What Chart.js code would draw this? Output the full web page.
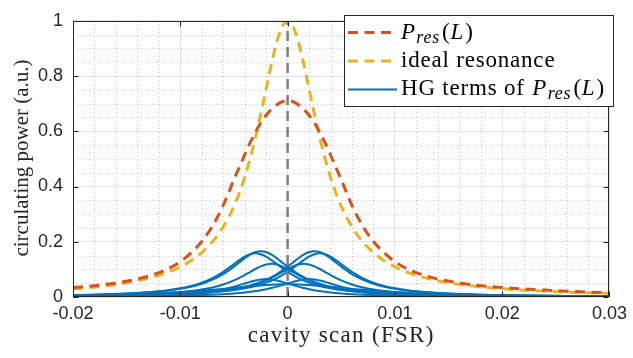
<!DOCTYPE html>
<html><head><meta charset="utf-8">
<script src="https://cdn.jsdelivr.net/npm/chart.js@4.4.1/dist/chart.umd.min.js"></script>
<style>html,body{margin:0;padding:0;background:#fff;overflow:hidden}</style>
</head><body>
<canvas id="c" width="633" height="358"></canvas>
<script>
// ---- data ----
const scanX = [-0.02,-0.018,-0.016,-0.014,-0.012,-0.011,-0.01,-0.009,-0.008,-0.007,-0.006,-0.005,-0.0045,-0.004,-0.0035,-0.003,-0.0025,-0.002,-0.0015,-0.001,-0.0005,0,0.0005,0.001,0.0015,0.002,0.0025,0.003,0.0035,0.004,0.0045,0.005,0.006,0.007,0.008,0.009,0.01,0.011,0.012,0.014,0.016,0.018,0.02,0.022,0.024,0.026,0.028,0.03];
const idealResonance = [0.0297,0.0364,0.0457,0.0588,0.0784,0.0919,0.1091,0.1314,0.1607,0.2,0.2539,0.3289,0.3769,0.4336,0.5,0.5765,0.6622,0.7538,0.8448,0.9245,0.98,1,0.98,0.9245,0.8448,0.7538,0.6622,0.5765,0.5,0.4336,0.3769,0.3289,0.2539,0.2,0.1607,0.1314,0.1091,0.0919,0.0784,0.0588,0.0457,0.0364,0.0297,0.0247,0.0208,0.0178,0.0154,0.0134];
const pRes = [0.034,0.041,0.051,0.065,0.088,0.105,0.128,0.160,0.201,0.257,0.332,0.425,0.470,0.515,0.558,0.597,0.630,0.658,0.680,0.696,0.707,0.712,0.707,0.696,0.680,0.658,0.630,0.597,0.558,0.515,0.470,0.425,0.332,0.257,0.201,0.160,0.128,0.105,0.088,0.065,0.051,0.041,0.034,0.029,0.025,0.021,0.018,0.016];
const hgA_pos = [0.0039,0.0047,0.0057,0.0072,0.0091,0.0105,0.0121,0.0141,0.0166,0.0198,0.0241,0.0297,0.0332,0.0373,0.0421,0.0478,0.0546,0.0626,0.0720,0.0830,0.0957,0.1099,0.1251,0.1402,0.1535,0.1627,0.166,0.1627,0.1535,0.1402,0.1251,0.1099,0.0830,0.0626,0.0478,0.0373,0.0297,0.0241,0.0198,0.0141,0.0105,0.0081,0.0064,0.0052,0.0043,0.0036,0.0031,0.0026];
const hgA_neg = [0.0064,0.0081,0.0105,0.0141,0.0198,0.0241,0.0297,0.0373,0.0478,0.0626,0.0830,0.1099,0.1251,0.1402,0.1535,0.1627,0.166,0.1627,0.1535,0.1402,0.1251,0.1099,0.0957,0.0830,0.0720,0.0626,0.0546,0.0478,0.0421,0.0373,0.0332,0.0297,0.0241,0.0198,0.0166,0.0141,0.0121,0.0105,0.0091,0.0072,0.0057,0.0047,0.0039,0.0033,0.0028,0.0025,0.0022,0.0019];
const hgB_pos = [0.0036,0.0043,0.0052,0.0064,0.0082,0.0093,0.0107,0.0124,0.0145,0.0172,0.0208,0.0254,0.0283,0.0316,0.0355,0.0401,0.0455,0.0520,0.0596,0.0685,0.079,0.0911,0.1046,0.1191,0.1335,0.1461,0.1548,0.158,0.1548,0.1461,0.1335,0.1191,0.0911,0.0685,0.0520,0.0401,0.0316,0.0254,0.0208,0.0145,0.0107,0.0082,0.0064,0.0052,0.0043,0.0036,0.0030,0.0026];
const hgB_neg = [0.0064,0.0082,0.0107,0.0145,0.0208,0.0254,0.0316,0.0401,0.0520,0.0685,0.0911,0.1191,0.1335,0.1461,0.1548,0.158,0.1548,0.1461,0.1335,0.1191,0.1046,0.0911,0.079,0.0685,0.0596,0.0520,0.0455,0.0401,0.0355,0.0316,0.0283,0.0254,0.0208,0.0172,0.0145,0.0124,0.0107,0.0093,0.0082,0.0064,0.0052,0.0043,0.0036,0.0030,0.0026,0.0023,0.0020,0.0018];
const hgC_pos = [0.0031,0.0037,0.0046,0.0058,0.0076,0.0087,0.0102,0.012,0.0143,0.0174,0.0215,0.0270,0.0305,0.0346,0.0395,0.0452,0.0520,0.06,0.0692,0.0795,0.0905,0.1014,0.1109,0.1176,0.12,0.1176,0.1109,0.1014,0.0905,0.0795,0.0692,0.06,0.0452,0.0346,0.0270,0.0215,0.0174,0.0143,0.012,0.0087,0.0066,0.0052,0.0042,0.0034,0.0028,0.0024,0.0021,0.0018];
const hgC_neg = [0.0042,0.0052,0.0066,0.0087,0.012,0.0143,0.0174,0.0215,0.0270,0.0346,0.0452,0.06,0.0692,0.0795,0.0905,0.1014,0.1109,0.1176,0.12,0.1176,0.1109,0.1014,0.0905,0.0795,0.0692,0.06,0.0520,0.0452,0.0395,0.0346,0.0305,0.0270,0.0215,0.0174,0.0143,0.012,0.0102,0.0087,0.0076,0.0058,0.0046,0.0037,0.0031,0.0026,0.0022,0.0019,0.0017,0.0015];
const hgD_center = [0.0063,0.0076,0.0092,0.0113,0.0142,0.0159,0.0180,0.0203,0.023,0.0261,0.0294,0.0331,0.0349,0.0368,0.0386,0.0403,0.0419,0.0433,0.0444,0.0453,0.0458,0.046,0.0458,0.0453,0.0444,0.0433,0.0419,0.0403,0.0386,0.0368,0.0349,0.0331,0.0294,0.0261,0.023,0.0203,0.0180,0.0159,0.0142,0.0113,0.0092,0.0076,0.0063,0.0054,0.0046,0.0040,0.0035,0.0031];
const hgE_pos = [0.0016,0.0019,0.0024,0.0030,0.0038,0.0044,0.0051,0.0060,0.0071,0.0085,0.0104,0.013,0.0146,0.0165,0.0187,0.0214,0.0245,0.0282,0.0325,0.0375,0.0430,0.0490,0.0549,0.0601,0.0637,0.065,0.0637,0.0601,0.0549,0.0490,0.0430,0.0375,0.0282,0.0214,0.0165,0.013,0.0104,0.0085,0.0071,0.0051,0.0038,0.0030,0.0024,0.0019,0.0016,0.0014,0.0012,0.0010];
const hgE_neg = [0.0024,0.0030,0.0038,0.0051,0.0071,0.0085,0.0104,0.013,0.0165,0.0214,0.0282,0.0375,0.0430,0.0490,0.0549,0.0601,0.0637,0.065,0.0637,0.0601,0.0549,0.0490,0.0430,0.0375,0.0325,0.0282,0.0245,0.0214,0.0187,0.0165,0.0146,0.013,0.0104,0.0085,0.0071,0.0060,0.0051,0.0044,0.0038,0.0030,0.0024,0.0019,0.0016,0.0014,0.0012,0.0010,0.0009,0.0008];
const markerX = [0, 0];
const markerY = [0, 1];
const xTickValues = [-0.02, -0.01, 0, 0.01, 0.02, 0.03];
const xTickLabels = ['-0.02', '-0.01', '0', '0.01', '0.02', '0.03'];
const yTickValues = [0, 0.2, 0.4, 0.6, 0.8, 1];
const yTickLabels = ['0', '0.2', '0.4', '0.6', '0.8', '1'];
const xTitle = 'cavity scan (FSR)';
const yTitle = 'circulating power (a.u.)';
const legendIdeal = 'ideal resonance';
const legendHGPrefix = 'HG terms of ';
const presParts = ['P', 'res', '(', 'L', ')'];

// ---- styling ----
const C_ORANGE = '#D95319', C_YELLOW = '#EDB120', C_BLUE = '#0072BD', C_GRAY = '#808080', C_AX = '#262626';
const SERIF = '"Liberation Serif", "Times New Roman", serif';
const SANS = '"Liberation Sans", Arial, sans-serif';
const DASH = [10, 6.5];

const pts = ys => scanX.map((x, i) => ({x: x, y: ys[i]}));
const hgSeries = [hgA_pos, hgA_neg, hgB_pos, hgB_neg, hgC_pos, hgC_neg, hgD_center, hgE_pos, hgE_neg];

const datasets = [
  {data: markerX.map((x, i) => ({x: x, y: markerY[i]})), borderColor: C_GRAY, borderWidth: 2.5, borderDash: [10, 6], order: 0, cubicInterpolationMode: 'default', tension: 0},
  ...hgSeries.map(s => ({data: pts(s), borderColor: C_BLUE, borderWidth: 2, order: 1})),
  {data: pts(pRes), borderColor: C_ORANGE, borderWidth: 3, borderDash: DASH, order: 2},
  {data: pts(idealResonance), borderColor: C_YELLOW, borderWidth: 3, borderDash: DASH, order: 3}
];

function setSpacing(ctx, s) { if ('letterSpacing' in ctx) ctx.letterSpacing = s; }

function drawPres(ctx, x, y) {
  ctx.font = 'italic 23px ' + SERIF; ctx.fillText(presParts[0], x, y); x += ctx.measureText(presParts[0]).width + 0.5;
  ctx.font = 'italic 18px ' + SERIF; ctx.fillText(presParts[1], x, y + 4); x += ctx.measureText(presParts[1]).width + 2;
  ctx.font = '23px ' + SERIF; ctx.fillText(presParts[2], x, y); x += ctx.measureText(presParts[2]).width;
  ctx.font = 'italic 23px ' + SERIF; ctx.fillText(presParts[3], x, y); x += ctx.measureText(presParts[3]).width + 1;
  ctx.font = '23px ' + SERIF; ctx.fillText(presParts[4], x, y); x += ctx.measureText(presParts[4]).width;
  return x;
}

const matlabPlugin = {
  id: 'matlabLook',
  beforeDatasetsDraw(chart) {
    const {ctx, chartArea: a, scales: {x, y}} = chart;
    ctx.save();
    ctx.strokeStyle = 'rgba(0,0,0,0.22)';
    ctx.lineWidth = 1;
    ctx.setLineDash([1, 3]);
    for (let i = 1; i < 25; i++) {
      if (i % 5 === 0) continue;
      const px = Math.round(x.getPixelForValue(-0.02 + i * 0.002)) + 0.5;
      ctx.beginPath(); ctx.moveTo(px, a.bottom); ctx.lineTo(px, a.top); ctx.stroke();
    }
    for (let j = 1; j < 20; j++) {
      if (j % 4 === 0) continue;
      const py = Math.round(y.getPixelForValue(j * 0.05)) + 0.5;
      ctx.beginPath(); ctx.moveTo(a.left, py); ctx.lineTo(a.right, py); ctx.stroke();
    }
    ctx.restore();
  },
  afterDatasetsDraw(chart) {
    const {ctx, chartArea: a, scales: {x, y}} = chart;
    ctx.save();
    ctx.setLineDash([]);
    ctx.strokeStyle = C_AX; ctx.lineWidth = 1;
    const L = Math.round(a.left) + 0.5, R = Math.round(a.right) - 0.5, T = Math.round(a.top) + 0.5, B = Math.round(a.bottom) - 0.5;
    ctx.strokeRect(L, T, R - L, B - T);
    const tl = 5;
    ctx.beginPath();
    xTickValues.forEach(v => {
      const px = Math.round(x.getPixelForValue(v)) + 0.5;
      ctx.moveTo(px, B); ctx.lineTo(px, B - tl);
      ctx.moveTo(px, T); ctx.lineTo(px, T + tl);
    });
    yTickValues.forEach(v => {
      const py = Math.round(y.getPixelForValue(v)) + 0.5;
      ctx.moveTo(L, py); ctx.lineTo(L + tl, py);
      ctx.moveTo(R, py); ctx.lineTo(R - tl, py);
    });
    ctx.stroke();

    // axis titles
    ctx.fillStyle = C_AX; ctx.textAlign = 'center'; ctx.textBaseline = 'middle';
    ctx.font = '23px ' + SERIF; setSpacing(ctx, '1.3px');
    ctx.fillText(xTitle, (a.left + a.right) / 2, 336);
    setSpacing(ctx, '0px');
    ctx.save();
    ctx.translate(22, 158);
    ctx.rotate(-Math.PI / 2);
    ctx.font = '21px ' + SERIF;
    ctx.fillText(yTitle, 0, 0);
    ctx.restore();

    // legend
    const lx0 = 344.5, ly0 = 15.5, lx1 = 613.5, ly1 = 106.5;
    ctx.fillStyle = '#fff'; ctx.fillRect(lx0, ly0, lx1 - lx0, ly1 - ly0);
    ctx.strokeStyle = C_AX; ctx.lineWidth = 1; ctx.strokeRect(lx0, ly0, lx1 - lx0, ly1 - ly0);
    const rows = [32.5, 61, 89.5];
    const st = [{c: C_ORANGE, d: DASH, w: 3}, {c: C_YELLOW, d: DASH, w: 3}, {c: C_BLUE, d: [], w: 2}];
    rows.forEach((yy, i) => {
      ctx.beginPath(); ctx.setLineDash(st[i].d); ctx.strokeStyle = st[i].c; ctx.lineWidth = st[i].w;
      ctx.moveTo(348, yy); ctx.lineTo(397, yy); ctx.stroke();
    });
    ctx.setLineDash([]);
    ctx.fillStyle = '#000'; ctx.textBaseline = 'alphabetic'; ctx.textAlign = 'left';
    setSpacing(ctx, '0.8px');
    drawPres(ctx, 401, rows[0] + 6);
    ctx.font = '23px ' + SERIF; ctx.fillText(legendIdeal, 401, rows[1] + 6);
    ctx.font = '23px ' + SERIF; ctx.fillText(legendHGPrefix, 401, rows[2] + 5);
    const w = ctx.measureText(legendHGPrefix).width;
    drawPres(ctx, 401 + w + 1, rows[2] + 5);
    setSpacing(ctx, '0px');
    ctx.restore();
  }
};

new Chart(document.getElementById('c'), {
  type: 'line',
  data: {datasets: datasets},
  options: {
    responsive: false, animation: false, devicePixelRatio: 1,
    layout: {padding: {top: 15, right: 19, bottom: 0, left: 0}},
    elements: {point: {radius: 0}, line: {fill: false, cubicInterpolationMode: 'monotone', borderCapStyle: 'butt'}},
    plugins: {legend: {display: false}, tooltip: {enabled: false}},
    scales: {
      x: {
        type: 'linear', min: -0.02, max: 0.03,
        afterBuildTicks: s => { s.ticks = xTickValues.map(v => ({value: v})); },
        afterFit: s => { s.height = 61; },
        ticks: {callback: (v, i) => xTickLabels[i], font: {family: SANS, size: 18}, color: C_AX, padding: 6, maxRotation: 0, autoSkip: false},
        grid: {color: '#e4e4e4', lineWidth: 1, drawTicks: false},
        border: {display: false},
        title: {display: false}
      },
      y: {
        type: 'linear', min: 0, max: 1,
        afterBuildTicks: s => { s.ticks = yTickValues.map(v => ({value: v})); },
        afterFit: s => { s.width = 73; },
        ticks: {callback: (v, i) => yTickLabels[i], font: {family: SANS, size: 18}, color: C_AX, padding: 10, autoSkip: false},
        grid: {color: '#e4e4e4', lineWidth: 1, drawTicks: false},
        border: {display: false},
        title: {display: false}
      }
    }
  },
  plugins: [matlabPlugin]
});
</script>
</body></html>
